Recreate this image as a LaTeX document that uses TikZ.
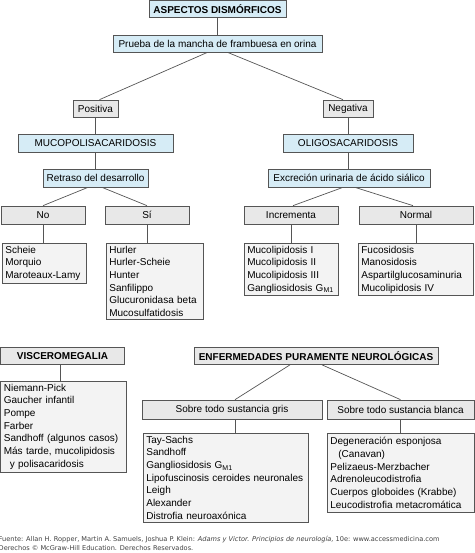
\documentclass[tikz,border=0pt]{standalone}
\usepackage{fontspec}
\setmainfont{Liberation Sans}
\newfontfamily\footfont{DejaVu Sans}
\definecolor{bxblue}{RGB}{214,236,246}
\definecolor{bxgray}{RGB}{232,232,232}
\definecolor{bxlist}{RGB}{243,243,243}
\definecolor{bxline}{RGB}{85,85,85}

\begin{document}
\begin{tikzpicture}[x=1pt,y=-1pt,
  font=\fontsize{10}{12.7}\selectfont,
  box/.style={draw=bxline,line width=0.7pt,inner sep=0pt,minimum height=17pt},
  bluebox/.style={box,fill=bxblue},
  graybox/.style={box,fill=bxgray},
  listbox/.style={draw=bxline,line width=0.7pt,fill=bxlist,align=left,anchor=north west,inner xsep=3pt,inner ysep=2.5pt},
  conn/.style={draw=bxline,line width=0.7pt}]
\useasboundingbox (0,0) rectangle (474,553);

\node[bluebox,minimum width=137pt,font=\bfseries] (asp) at (217.5,9) {ASPECTOS DISMÓRFICOS};
\node[bluebox,minimum width=209pt] (prueba) at (217.5,43.5) {Prueba de la mancha de frambuesa en orina};
\node[graybox,minimum width=45pt] (pos) at (95.5,108.5) {Positiva};
\node[graybox,minimum width=50pt] (neg) at (348,108.5) {Negativa};
\node[bluebox,minimum width=155pt,minimum height=18pt] (muco) at (95.5,143) {MUCOPOLISACARIDOSIS};
\node[bluebox,minimum width=130pt,minimum height=18pt] (oligo) at (348,143) {OLIGOSACARIDOSIS};
\node[bluebox,minimum width=105pt,minimum height=18pt] (retraso) at (95.5,178) {Retraso del desarrollo};
\node[bluebox,minimum width=162pt,minimum height=18pt] (excr) at (349,178) {Excreción urinaria de ácido siálico};
\node[graybox,minimum width=84pt,minimum height=18pt] (no) at (43,215) {No};
\node[graybox,minimum width=84pt,minimum height=18pt] (si) at (147,215) {Sí};
\node[graybox,minimum width=94pt,minimum height=18pt] (incr) at (291,215) {Incrementa};
\node[graybox,minimum width=114pt,minimum height=18pt] (normal) at (416,215) {Normal};

\node[listbox,text width=78pt] (lno) at (2,243) {Scheie\\Morquio\\Maroteaux-Lamy};
\node[listbox,text width=91pt] (lsi) at (106,243) {Hurler\\Hurler-Scheie\\Hunter\\Sanfilippo\\Glucuronidasa beta\\Mucosulfatidosis};
\node[listbox,text width=88pt] (lincr) at (244,243) {Mucolipidosis I\\Mucolipidosis II\\Mucolipidosis III\\Gangliosidosis G\textsubscript{M1}};
\node[listbox,text width=109pt] (lnormal) at (358,243) {Fucosidosis\\Manosidosis\\Aspartilglucosaminuria\\Mucolipidosis IV};

\node[graybox,minimum width=124pt,font=\bfseries] (visc) at (62.5,356) {VISCEROMEGALIA};
\node[graybox,minimum width=244pt,font=\bfseries] (enf) at (316,356) {ENFERMEDADES PURAMENTE NEUROLÓGICAS};
\node[listbox,text width=119pt] (lvisc) at (0.5,381) {Niemann-Pick\\Gaucher infantil\\Pompe\\Farber\\Sandhoff (algunos casos)\\Más tarde, mucolipidosis\\\hspace*{0.6em}y polisacaridosis};
\node[graybox,minimum width=180pt,minimum height=19pt] (gris) at (232,409.5) {Sobre todo sustancia gris};
\node[graybox,minimum width=147pt,minimum height=19pt] (blanca) at (400.5,409.5) {Sobre todo sustancia blanca};
\node[listbox,text width=159pt] (lgris) at (143,433) {Tay-Sachs\\Sandhoff\\Gangliosidosis G\textsubscript{M1}\\Lipofuscinosis ceroides neuronales\\Leigh\\Alexander\\Distrofia neuroaxónica};
\node[listbox,text width=141pt,inner ysep=4pt] (lblanca) at (327,433) {Degeneración esponjosa\\\hspace*{0.8em}(Canavan)\\Pelizaeus-Merzbacher\\Adrenoleucodistrofia\\Cuerpos globoides (Krabbe)\\Leucodistrofia metacromática};

\draw[conn] (asp) -- (prueba);
\draw[conn] ([xshift=-10pt]prueba.south) -- ([xshift=4pt]pos.north);
\draw[conn] ([xshift=10pt]prueba.south) -- ([xshift=-5pt]neg.north);
\draw[conn] (pos) -- (muco);
\draw[conn] (neg) -- (oligo);
\draw[conn] (muco) -- (retraso);
\draw[conn] (oligo.south) -- (oligo.south |- excr.north);
\draw[conn] ([xshift=-7.5pt]retraso.south) -- (no.north);
\draw[conn] ([xshift=6.5pt]retraso.south) -- (si.north);
\draw[conn] ([xshift=-6pt]excr.south) -- ([xshift=2pt]incr.north);
\draw[conn] ([xshift=6pt]excr.south) -- ([xshift=-3pt]normal.north);
\draw[conn] (no.south) -- (no.south |- lno.north);
\draw[conn] (si.south) -- (si.south |- lsi.north);
\draw[conn] (incr.south) -- (incr.south |- lincr.north);
\draw[conn] (normal.south) -- (normal.south |- lnormal.north);
\draw[conn] ([xshift=-2.5pt]visc.south) -- ([xshift=-2.5pt]visc.south |- lvisc.north);
\draw[conn] ([xshift=-26pt]enf.south) -- ([xshift=3pt]gris.north);
\draw[conn] ([xshift=6pt]enf.south) -- (blanca.north);
\draw[conn] ([xshift=3pt]gris.south) -- ([xshift=3pt]gris.south |- lgris.north);
\draw[conn] (blanca.south) -- (blanca.south |- lblanca.north);

\node[anchor=north west,inner sep=0pt,align=left,text=black!75,font=\footfont\fontsize{6.6}{9}\selectfont] (fuente) at (-1.5,536.5) {Fuente: Allan H. Ropper, Martin A. Samuels, Joshua P. Klein: \textit{Adams y Victor. Principios de neurología,} 10e: www.accessmedicina.com\\Derechos © McGraw-Hill Education. Derechos Reservados.};
\end{tikzpicture}
\end{document}
